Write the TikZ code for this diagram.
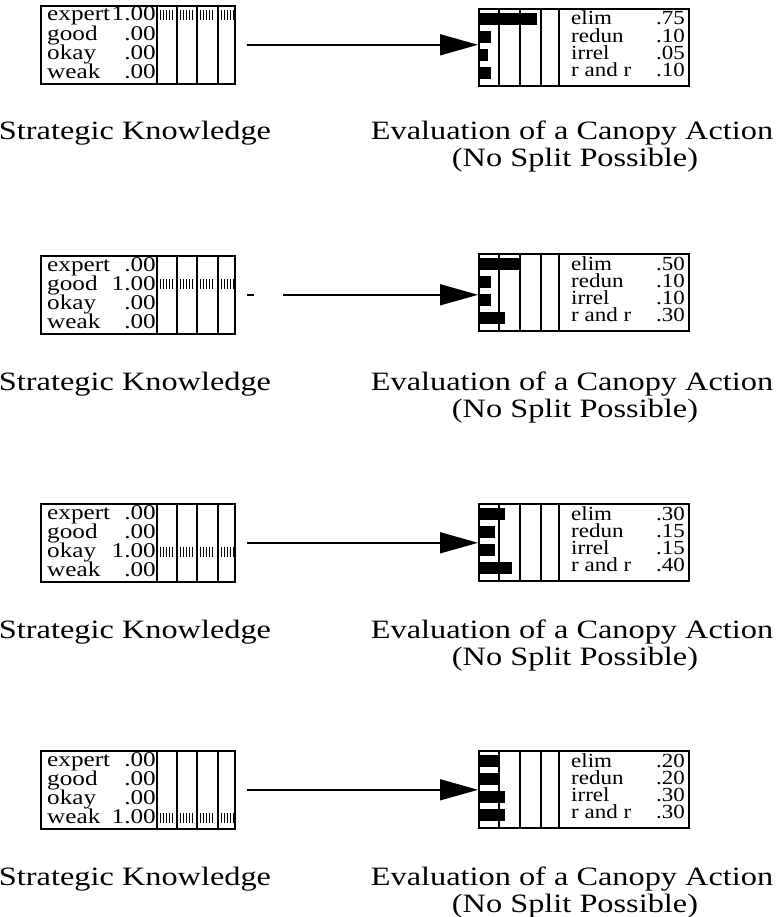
\documentclass[tikz,border=0pt]{standalone}
\usepackage{fontspec}
\setmainfont{Liberation Serif}
\usetikzlibrary{arrows.meta}
\tikzset{
  lbox/.style={draw, line width=1.6pt, minimum width=194pt, minimum height=78pt, inner sep=0pt, anchor=north west},
  rbox/.style={draw, line width=1.6pt, minimum width=210pt, minimum height=77pt, inner sep=0pt, anchor=north west},
  gridl/.style={line width=1.4pt},
  hatchtick/.style={line width=0.9pt},
  lbl/.style={anchor=base west, inner sep=0pt, font=\fontsize{21}{21}\selectfont, xscale=1.2, transform shape},
  lval/.style={anchor=base east, inner sep=0pt, font=\fontsize{21}{21}\selectfont, xscale=1.2, transform shape},
  rlbl/.style={anchor=base west, inner sep=0pt, font=\fontsize{20}{20}\selectfont, xscale=1.15, transform shape},
  rval/.style={anchor=base east, inner sep=0pt, font=\fontsize{20}{20}\selectfont, xscale=1.15, transform shape},
  captxt/.style={anchor=base, inner sep=0pt, font=\fontsize{26.5}{26.5}\selectfont, xscale=1.22, transform shape},
  barfill/.style={fill=black},
  conn/.style={line width=1.5pt, -{Triangle[length=38pt,width=21pt]}},
  plainl/.style={line width=1.5pt}
}
\newcommand\onepanel[8]{%
  % left box
  \node[lbox] (L#1) at (40,#2) {};
  \foreach \gx in {117,137,157,178}
    \draw[gridl] ({40+\gx},#2) -- ({40+\gx},{#2+78});
  \foreach \lab [count=\i from 0] in {expert,good,okay,weak}{
    \node[lbl] at (47,{#2+16+19.3*\i}) {\lab};
    \node[lval] at (156,{#2+16+19.3*\i}) {\ifnum\i=#4 1.00\else .00\fi};
  }
  \foreach \a in {157,177,197,218}
    \foreach \k in {0,...,4}
      \draw[hatchtick] ({\a+3+3*\k},{#2+16+19.3*#4-11}) -- ++(0,10);
  % right box
  \node[rbox] (R#1) at (478,#3) {};
  \foreach \gx in {21,42,63,81}
    \draw[gridl] ({478+\gx},#3) -- ({478+\gx},{#3+77});
  \foreach \v/\lab [count=\i from 0] in {#5/elim,#6/redun,#7/irrel,#8/r and r}{
    \fill[barfill] (479,{#3+5+18*\i}) rectangle ({479+5+70*\v},{#3+17+18*\i});
    \node[rlbl] at (571,{#3+17+17.2*\i}) {\lab};
    \node[rval] at (685,{#3+17+17.2*\i}) {\v};
  }
  \node[captxt] (S#1) at (135,{#2+135}) {Strategic Knowledge};
  \node[captxt] (E#1) at (572,{#2+135}) {Evaluation of a Canopy Action};
  \node[captxt] (N#1) at (575,{#2+162}) {(No Split Possible)};
}
\begin{document}
\begin{tikzpicture}[x=1pt,y=-1pt]
\useasboundingbox (0,0) rectangle (776,917);
\onepanel{1}{5}{8}{0}{.75}{.10}{.05}{.10}
\onepanel{2}{255}{253}{1}{.50}{.10}{.10}{.30}
\onepanel{3}{503}{503}{2}{.30}{.15}{.15}{.40}
\onepanel{4}{750}{750}{3}{.20}{.20}{.30}{.30}
\draw[conn, shorten <=11pt] (L1.east) -- (L1.east -| R1.west);
\draw[plainl] ([xshift=11pt]L2.east) -- ([xshift=18pt]L2.east);
\draw[conn, shorten <=47pt] (L2.east) -- (L2.east -| R2.west);
\draw[conn, shorten <=11pt] (L3.east) -- (L3.east -| R3.west);
\draw[conn, shorten <=11pt] (L4.east) -- (L4.east -| R4.west);
\end{tikzpicture}
\end{document}
